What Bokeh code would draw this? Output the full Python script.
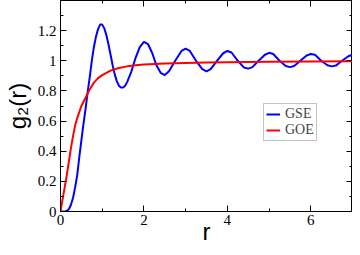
from bokeh.plotting import figure
from bokeh.models import (Range1d, FixedTicker, LinearAxis, NumeralTickFormatter,
                          CustomJSTickFormatter, Legend, LegendItem)
from bokeh.embed import file_html
from bokeh.resources import INLINE

# GSE two-level correlation g2(r) (blue)
r_gse = [0, 0.1, 0.15, 0.2, 0.25, 0.3, 0.35, 0.4, 0.45, 0.5, 0.55, 0.6, 0.65, 0.7, 0.75,
         0.8, 0.85, 0.9, 0.95, 1.0, 1.05, 1.1, 1.15, 1.2, 1.25, 1.3, 1.35, 1.4, 1.45, 1.5,
         1.55, 1.6, 1.7, 1.8, 1.9, 2.0, 2.1, 2.2, 2.3, 2.4, 2.5, 2.6, 2.75, 2.9, 3.0,
         3.1, 3.25, 3.4, 3.5, 3.6, 3.75, 3.9, 4.0, 4.1, 4.25, 4.4, 4.5, 4.6, 4.75, 4.9,
         5.0, 5.1, 5.25, 5.4, 5.5, 5.6, 5.75, 5.9, 6.0, 6.1, 6.25, 6.4, 6.5, 6.6, 6.75,
         6.9, 7.0]
g_gse = [0, 0.0, 0.004, 0.015, 0.045, 0.09, 0.16, 0.24, 0.36, 0.47, 0.58, 0.68, 0.79, 0.89, 1.0,
         1.09, 1.16, 1.21, 1.24, 1.24, 1.215, 1.17, 1.11, 1.04, 0.97, 0.91, 0.865, 0.835, 0.822, 0.822,
         0.835, 0.86, 0.93, 1.02, 1.09, 1.125, 1.11, 1.05, 0.97, 0.92, 0.905, 0.93, 1.0, 1.065, 1.08,
         1.065, 1.0, 0.945, 0.93, 0.945, 1.0, 1.05, 1.065, 1.055, 1.0, 0.955, 0.948, 0.958, 1.0, 1.04,
         1.053, 1.045, 1.0, 0.965, 0.958, 0.965, 1.0, 1.035, 1.045, 1.04, 1.0, 0.97, 0.963, 0.968, 1.0,
         1.03, 1.04]

# GOE curve (red)
r_goe = [0, 0.05, 0.1, 0.15, 0.2, 0.25, 0.3, 0.35, 0.4, 0.5, 0.6, 0.7, 0.8, 0.9, 1.0,
         1.2, 1.4, 1.6, 1.8, 2.0, 2.5, 3.0, 3.5, 4.0, 5.0, 6.0, 7.0]
g_goe = [0, 0.08, 0.16, 0.24, 0.33, 0.42, 0.50, 0.57, 0.62, 0.70, 0.755, 0.81, 0.855, 0.885, 0.905,
         0.935, 0.952, 0.963, 0.97, 0.975, 0.982, 0.986, 0.989, 0.991, 0.994, 0.996, 0.997]

series_names = ["GSE", "GOE"]
x_major = [0, 2, 4, 6]
x_minor = [1, 3, 5, 7]
y_major = [0, 0.2, 0.4, 0.6, 0.8, 1.0, 1.2]
y_minor = [0.1, 0.3, 0.5, 0.7, 0.9, 1.1, 1.3]

p = figure(width=352, height=247, output_backend="svg", toolbar_location=None,
           x_range=Range1d(0, 7), y_range=Range1d(0, 1.4),
           min_border_left=51, min_border_right=0, min_border_top=0, min_border_bottom=30,
           x_axis_label="r", y_axis_label="g\u2082(r)")
p.background_fill_color = "white"
p.border_fill_color = "white"
p.outline_line_color = "black"
p.outline_line_width = 1
p.xgrid.visible = False
p.ygrid.visible = False

xt = FixedTicker(ticks=x_major, minor_ticks=x_minor)
yt = FixedTicker(ticks=y_major, minor_ticks=y_minor)

for ax, t in ((p.xaxis[0], xt), (p.yaxis[0], yt)):
    ax.ticker = t
    ax.major_tick_in = 6
    ax.major_tick_out = 0
    ax.minor_tick_in = 3
    ax.minor_tick_out = 0
    ax.axis_line_color = "black"
    ax.major_tick_line_color = "black"
    ax.minor_tick_line_color = "black"
    ax.major_label_text_font = "Liberation Serif"
    ax.major_label_text_font_size = "15px"
    ax.major_label_text_color = "black"
    ax.axis_label_text_font = "Liberation Sans"
    ax.axis_label_text_font_style = "normal"
    ax.axis_label_text_font_size = "24px"
    ax.axis_label_text_color = "black"
    ax.formatter = NumeralTickFormatter(format="0.[0]")

p.xaxis.major_label_standoff = 3
p.xaxis.axis_label_standoff = -10
p.xaxis.major_label_text_line_height = 1.0
p.xaxis.axis_label_text_line_height = 0.9
p.yaxis.major_label_standoff = 4
p.yaxis.axis_label_standoff = 4

for loc, t in (("right", yt), ("above", xt)):
    ax = LinearAxis(ticker=t, major_tick_in=6, major_tick_out=0, minor_tick_in=3,
                    minor_tick_out=0, formatter=CustomJSTickFormatter(code="return ''"),
                    major_label_standoff=0, axis_line_color="black")
    p.add_layout(ax, loc)

l1 = p.line(r_gse, g_gse, line_color="#0000ff", line_width=2)
l2 = p.line(r_goe, g_goe, line_color="#ff0000", line_width=2)

legend = Legend(items=[LegendItem(label=series_names[0], renderers=[l1]),
                       LegendItem(label=series_names[1], renderers=[l2])],
                location=(203, 70))
legend.label_text_font = "Liberation Serif"
legend.label_text_font_size = "14px"
legend.label_text_line_height = 0.9
legend.label_height = 12
legend.label_standoff = 5
legend.glyph_width = 14
legend.glyph_height = 12
legend.spacing = 0
legend.padding = 2
legend.margin = 0
legend.border_line_color = "#888888"
legend.border_line_width = 1
legend.background_fill_alpha = 1
p.add_layout(legend)

open("out.html", "w").write(file_html(p, INLINE))
